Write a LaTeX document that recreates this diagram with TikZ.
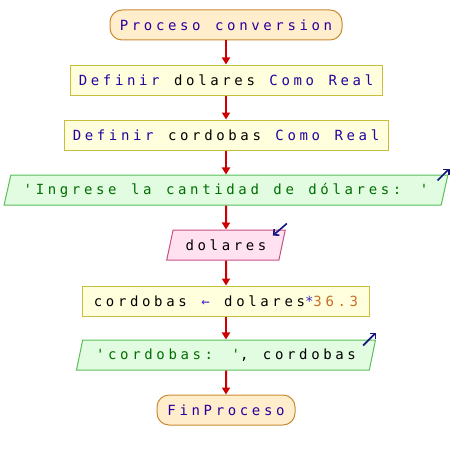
\documentclass[tikz,border=0pt]{standalone}
\usepackage{fontspec}
\usetikzlibrary{shapes.geometric,arrows.meta,calc}
\newfontfamily\psfont[LetterSpace=26,WordSpace=1.2]{DejaVu Sans Mono}
\definecolor{kw}{RGB}{40,0,160}
\definecolor{op}{RGB}{60,40,200}
\definecolor{str}{RGB}{0,110,0}
\definecolor{num}{RGB}{200,110,40}
\definecolor{termfill}{RGB}{255,237,204}
\definecolor{termline}{RGB}{200,140,50}
\definecolor{stmtfill}{RGB}{255,255,221}
\definecolor{stmtline}{RGB}{200,190,60}
\definecolor{outfill}{RGB}{225,252,225}
\definecolor{outline}{RGB}{90,190,90}
\definecolor{infill}{RGB}{255,225,240}
\definecolor{inline}{RGB}{200,80,130}
\definecolor{ioblue}{RGB}{20,20,130}

\tikzset{
  base/.style={font=\psfont\fontsize{14}{16}\selectfont,minimum height=30pt,inner sep=0pt,line width=1pt},
  terminal/.style={base,rectangle,rounded corners=12pt,draw=termline,fill=termfill},
  stmt/.style={base,rectangle,draw=stmtline,fill=stmtfill},
  outbox/.style={base,trapezium,trapezium left angle=66,trapezium right angle=114,trapezium stretches=true,draw=outline,fill=outfill},
  inbox/.style={base,trapezium,trapezium left angle=66,trapezium right angle=114,trapezium stretches=true,draw=inline,fill=infill},
  flow/.style={-{Triangle[length=7pt,width=8pt]},red!80!black,line width=2pt},
  io/.style={-{Straight Barb[length=4pt,width=8pt]},ioblue,line width=1.6pt}
}

\begin{document}
\begin{tikzpicture}[x=1pt,y=-1pt]
\useasboundingbox (0,0) rectangle (452,460);
\node[terminal,minimum width=232pt] (START) at (226,25) {\color{kw}Proceso conversion};
\node[stmt,minimum width=312pt] (DEF1) at (226,80) {\color{kw}Definir \color{black}dolares \color{kw}Como Real};
\node[stmt,minimum width=324pt] (DEF2) at (226,135) {\color{kw}Definir \color{black}cordobas \color{kw}Como Real};
\node[outbox,minimum width=444pt] (OUT1) at (226,190) {\color{str}'Ingrese la cantidad de dólares: '};
\node[inbox,minimum width=119pt] (IN1) at (226,245) {dolares};
\node[stmt,minimum width=287pt] (ASG) at (226,301) {cordobas {\color{op}←} dolares{\color{op}*}{\color{num}36.3}};
\node[outbox,minimum width=300pt] (OUT2) at (226,355) {{\color{str}'cordobas: '}, cordobas};
\node[terminal,minimum width=138pt] (END) at (226,410) {\color{kw}FinProceso};

% flow
\draw[flow] (START) -- (DEF1);
\draw[flow] (DEF1) -- (DEF2);
\draw[flow] (DEF2) -- (OUT1);
\draw[flow] (OUT1) -- (IN1);
\draw[flow] (IN1) -- (ASG);
\draw[flow] (ASG) -- (OUT2);
\draw[flow] (OUT2) -- (END);

% in/out marks
\draw[io] ($(OUT1.top right corner)+(-11,6)$) -- ($(OUT1.top right corner)+(1,-6)$);
\draw[io] ($(IN1.top right corner)+(1,-6)$) -- ($(IN1.top right corner)+(-13,6)$);
\draw[io] ($(OUT2.top right corner)+(-13,6)$) -- ($(OUT2.top right corner)+(0,-7)$);
\end{tikzpicture}
\end{document}
